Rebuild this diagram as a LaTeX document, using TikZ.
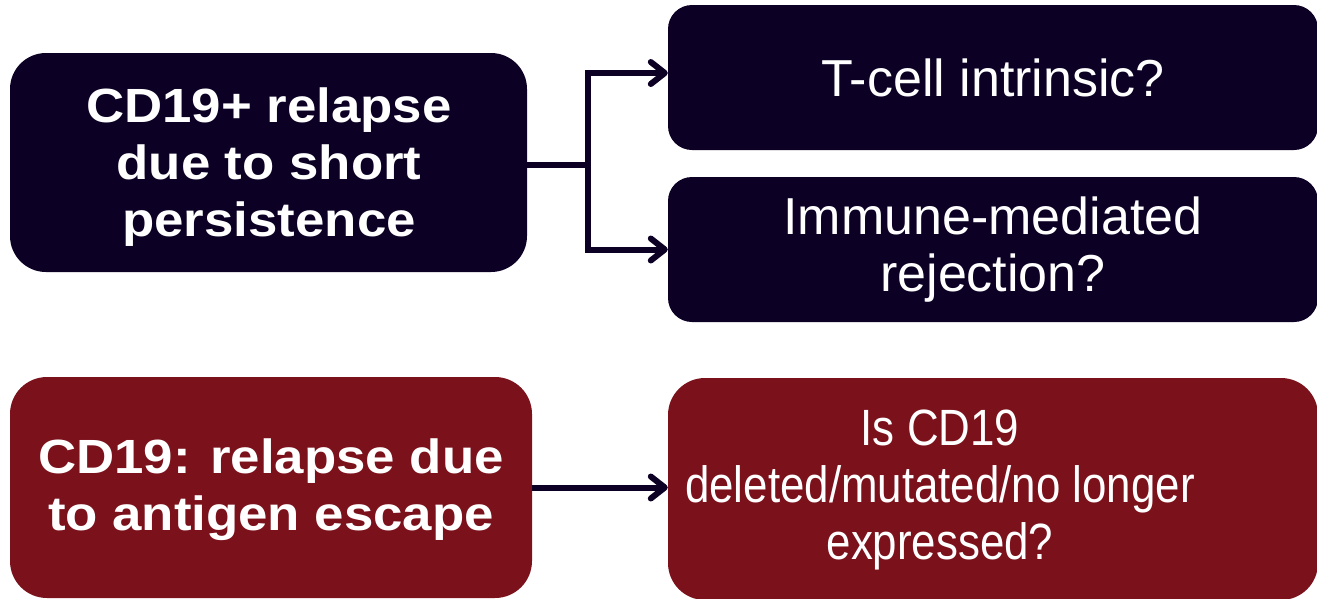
\documentclass[tikz,border=0pt]{standalone}
\usepackage{fontspec}
\setmainfont{Liberation Sans}
\newfontfamily\boldwide{Liberation Sans}[FakeStretch=1.1]
\newfontfamily\narrowfont{Liberation Sans}[FakeStretch=0.86]
\usetikzlibrary{arrows.meta}
\definecolor{navy}{HTML}{0C0024}
\definecolor{wine}{HTML}{7B111B}
\begin{document}
\begin{tikzpicture}[x=1pt,y=-1pt,
  box/.style={rectangle, rounded corners=#1, inner sep=0pt, text=white, align=center},
  boldtxt/.style={font={\boldwide\bfseries\fontsize{48}{57}\selectfont}},
  regtxt/.style={font={\fontsize{52}{57}\selectfont}},
  conn/.style={draw=navy, line width=6pt},
  tip/.tip={Straight Barb[length=14pt,width=22pt,round]}]
\useasboundingbox (0,0) rectangle (1317,598);
% left boxes
\node[box=36, fill=navy, minimum width=517pt, minimum height=219pt] (A) at (268.5,162.5) {};
\node[box=37, fill=wine, minimum width=522pt, minimum height=221pt] (D) at (271,487.5) {};
\node[text=white, align=center, inner sep=0pt, boldtxt] (At) at (269,167) {CD19+ relapse\\due to short\\persistence};
\node[text=white, align=center, inner sep=0pt, boldtxt] (Dt) at (271,490) {CD19: relapse due\\to antigen escape};
% right boxes
\node[box=24, fill=navy, minimum width=650pt, minimum height=145pt, regtxt] (B) at (993,77.5) {T-cell intrinsic?};
\node[box=24, fill=navy, minimum width=650pt, minimum height=145pt, regtxt] (C) at (993,249.5) {Immune-mediated\\rejection?};
\node[box=37, fill=wine, minimum width=650pt, minimum height=222pt] (E) at (993,489) {};
\node[text=white, align=center, inner sep=0pt, font={\narrowfont\fontsize{51}{57}\selectfont}] (Et) at (940,490) {Is CD19\\deleted/mutated/no longer\\expressed?};
% connectors
\coordinate (J) at (588,165);
\draw[conn] (A.east |- J) -- (J);
\draw[conn, tip-tip] ([yshift=4.5pt]B.west) -| (J) |- (C.west);
\draw[conn, -tip] (D.east) -- (D.east -| E.west);
\end{tikzpicture}
\end{document}
